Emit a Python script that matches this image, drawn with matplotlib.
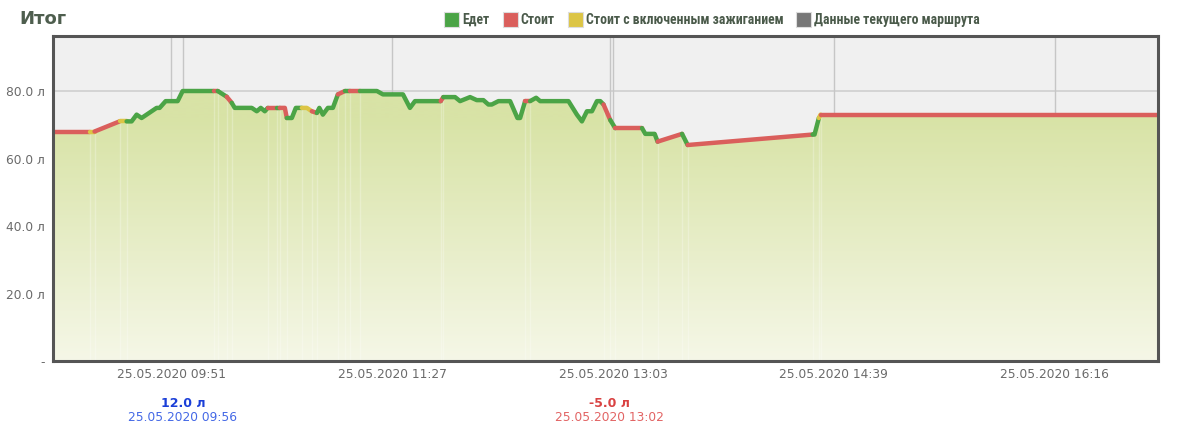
import numpy as np
import matplotlib.pyplot as plt
import matplotlib.dates as mdates
from matplotlib import font_manager
from matplotlib.patches import Rectangle
from matplotlib.colors import LinearSegmentedColormap
from matplotlib.transforms import blended_transform_factory
from datetime import datetime

DAY = '2020-05-25'

# fuel level track, state is the one of the segment starting at the point
times = ['08:59:24', '09:15:20', '09:17:31', '09:28:25', '09:31:29', '09:33:40',
         '09:35:51', '09:38:01', '09:44:34', '09:45:53', '09:48:30', '09:53:44',
         '09:55:55', '10:09:27', '10:11:12', '10:15:08', '10:17:19', '10:18:37',
         '10:26:02', '10:28:13', '10:29:58', '10:31:43', '10:33:01', '10:36:57',
         '10:38:16', '10:40:27', '10:41:19', '10:43:30', '10:45:15', '10:47:52',
         '10:50:03', '10:52:14', '10:54:25', '10:55:30', '10:57:02', '10:59:13',
         '11:01:24', '11:03:35', '11:06:38', '11:08:49', '11:13:11', '11:20:36',
         '11:23:13', '11:31:57', '11:35:00', '11:37:11', '11:48:24', '11:49:32',
         '11:54:39', '11:56:50', '12:01:12', '12:04:07', '12:07:00', '12:09:11',
         '12:10:40', '12:13:33', '12:18:39', '12:21:51', '12:23:01', '12:25:12',
         '12:27:23', '12:30:00', '12:31:45', '12:44:06', '12:47:46', '12:49:57',
         '12:52:08', '12:54:19', '12:56:30', '12:57:57', '12:59:23', '13:02:18',
         '13:04:29', '13:16:09', '13:17:35', '13:21:39', '13:22:57', '13:33:36',
         '13:36:03', '14:30:29', '14:31:21', '14:33:14', '14:33:58', '17:01:04']
fuel = [68, 68, 68, 71, 71, 71,
        73, 72, 75, 75, 77, 77,
        80, 80, 80, 78.3, 76.5, 75,
        75, 74, 75, 74, 75, 75,
        75, 75, 72, 72, 75, 75,
        75, 74, 73.5, 75, 73, 75,
        75, 79, 80, 80, 80, 80,
        79, 79, 75, 77, 77, 78.2,
        78.2, 77, 78.2, 77.3, 77.3, 76,
        76, 77, 77, 72, 72, 77,
        77, 78, 77, 77, 73, 71,
        74, 74, 77, 77, 76, 71.4,
        69, 69, 67.3, 67.3, 65, 67.3,
        64, 67.1, 67.1, 72, 73, 73]
states = ['stop', 'idle', 'stop', 'idle', 'go', 'go',
          'go', 'go', 'go', 'go', 'go', 'go',
          'go', 'stop', 'go', 'stop', 'go', 'go',
          'go', 'go', 'go', 'go', 'stop', 'go',
          'stop', 'stop', 'go', 'go', 'go', 'idle',
          'idle', 'stop', 'go', 'go', 'go', 'go',
          'go', 'stop', 'go', 'stop', 'go', 'go',
          'go', 'go', 'go', 'go', 'stop', 'go',
          'go', 'go', 'go', 'go', 'go', 'go',
          'go', 'go', 'go', 'go', 'go', 'stop',
          'go', 'go', 'go', 'go', 'go', 'go',
          'go', 'go', 'go', 'go', 'stop', 'go',
          'stop', 'go', 'go', 'go', 'stop', 'go',
          'stop', 'go', 'go', 'idle', 'stop']

tick_times = ['09:51:00', '11:27:15', '13:03:30', '14:39:45', '16:16:00']
y_ticks = [0, 20, 40, 60, 80]

event_times = ['09:56:00', '13:02:00']
event_values = [12.0, -5.0]

legend_keys = ['go', 'stop', 'idle', 'route']
legend_labels = ['Едет', 'Стоит', 'Стоит с включенным зажиганием',
                 'Данные текущего маршрута']

state_colors = {'go': '#4ba446', 'stop': '#da5f5c', 'idle': '#dcc545', 'route': '#777777'}
event_colors = {True: ('#1b3fd8', '#4468e6'), False: ('#d94242', '#e26464')}


def to_num(s):
    return mdates.date2num(datetime.strptime(DAY + ' ' + s, '%Y-%m-%d %H:%M:%S'))


x = np.array([to_num(t) for t in times])
y = np.array(fuel, dtype=float)

fig = plt.figure(figsize=(12, 4.4), dpi=100)
ax = fig.add_axes([53 / 1200, 79 / 440, 1105 / 1200, 325 / 440])
ax.set_facecolor('#f0f0f0')

# grid behind the fill
for v in y_ticks[1:]:
    ax.axhline(v, color='#d2d2d2', lw=1.3, zorder=1)
for t in tick_times + event_times:
    ax.axvline(to_num(t), color='#c6c6c6', lw=1.0, zorder=1)

# gradient area under the line
poly = ax.fill_between(x, y, 0, color='none', zorder=2)
cmap = LinearSegmentedColormap.from_list('fill', ['#f5f7e7', '#d8e3a6'])
grad = np.clip(np.linspace(0, 100, 400) / 72, 0, 1).reshape(-1, 1)
img = ax.imshow(grad, aspect='auto', cmap=cmap, origin='lower', vmin=0, vmax=1,
                extent=[x[0], x[-1], 0, 100], zorder=2, interpolation='bilinear')
img.set_clip_path(poly.get_paths()[0], transform=ax.transData)

# faint markers where state changes
for i in range(1, len(states)):
    if states[i] != states[i - 1]:
        ax.plot([x[i], x[i]], [0, y[i]], color='white', lw=1.0, alpha=0.25, zorder=3)

# line coloured by state, consecutive segments of one state drawn together
start = 0
for i in range(1, len(states) + 1):
    if i == len(states) or states[i] != states[start]:
        ax.plot(x[start:i + 1], y[start:i + 1], color=state_colors[states[start]],
                lw=3.2, solid_joinstyle='round', solid_capstyle='round', zorder=4)
        start = i

ax.set_xlim(x[0], x[-1])
ax.set_ylim(0, 96.3)
ax.set_xticks([to_num(t) for t in tick_times])
ax.xaxis.set_major_formatter(mdates.DateFormatter('%d.%m.%Y %H:%M'))
ax.set_yticks(y_ticks)
ax.yaxis.set_major_formatter(plt.FuncFormatter(lambda v, p: '-' if v == 0 else f'{v:.1f} л'))
ax.tick_params(axis='x', length=0, pad=5, labelsize=8.8, labelcolor='#6a6a6a')
ax.tick_params(axis='y', length=0, pad=6, labelsize=8.8, labelcolor='#6a6a6a')
for s in ax.spines.values():
    s.set_color('#555555')
    s.set_linewidth(2.2)
    s.set_zorder(6)

# refuel / drain notes under the axis
tr = blended_transform_factory(ax.transData, fig.transFigure)
for t, v in zip(event_times, event_values):
    c1, c2 = event_colors[v > 0]
    ax.text(to_num(t), 1 - 403 / 440, f'{v:.1f} л', transform=tr, ha='center', va='center',
            fontsize=9, fontweight='bold', color=c1)
    ax.text(to_num(t), 1 - 417 / 440, DAY[8:10] + '.' + DAY[5:7] + '.' + DAY[:4] + ' ' + t[:5],
            transform=tr, ha='center', va='center', fontsize=8.8, color=c2)

fig.text(19 / 1200, 1 - 19.5 / 440, 'Итог', fontsize=13, fontweight='bold',
         color='#4e5e4e', ha='left', va='center')

# legend row at the top right; prefer a narrow face like the original
installed = {f.name for f in font_manager.fontManager.ttflist}
narrow = [f for f in ['Roboto Condensed', 'Liberation Sans Narrow', 'DejaVu Sans Condensed',
                      'Roboto'] if f in installed] or ['DejaVu Sans']
leg_font = narrow[0]

renderer = fig.canvas.get_renderer()
yc = 1 - 20 / 440
items = []
for key, label in zip(legend_keys, legend_labels):
    txt = fig.text(0, yc, label, fontsize=10, fontweight='bold', family=leg_font,
                   color='#4a5a4a', ha='left', va='center')
    items.append((key, txt))
text_w = sum(t.get_window_extent(renderer).width for _, t in items)
# roughly the space the texts take in the original row, a bit larger for height
size = min(10.5, 1.1 * 10.0 * (499 - 4 * 18 - 3 * 13) / text_w)
widths = []
for key, txt in items:
    txt.set_fontsize(size)
    widths.append(txt.get_window_extent(renderer).width)
px = 980 - (sum(widths) + 4 * 18 + 3 * 13)
for (key, txt), w in zip(items, widths):
    fig.patches.append(Rectangle((px / 1200, yc - 7.5 / 440), 15 / 1200, 15 / 440,
                                 transform=fig.transFigure, facecolor=state_colors[key],
                                 edgecolor='#dddddd', lw=0.8))
    txt.set_x((px + 18) / 1200)
    px += 18 + w + 13

fig.savefig('out.png', dpi=100)
